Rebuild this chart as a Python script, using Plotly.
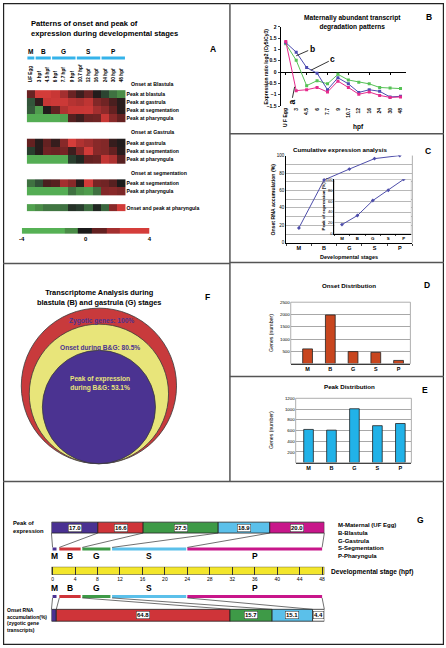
import plotly.graph_objects as go

W, H = 446, 648
FONT = "Liberation Sans, Arial, sans-serif"


def px(x):
    return x / W


def py(y):
    return 1 - y / H


def xdom(a, b):
    return [a / W, b / W]


def ydom(top, bottom):
    return [1 - bottom / H, 1 - top / H]


# ======================= DATA =======================
# Panel A heatmap (log2 ratios)
hm_columns = ["UF Egg", "3 hpf", "4.5 hpf", "6 hpf", "7.7 hpf", "9 hpf",
              "10.7 hpf", "12 hpf", "16 hpf", "24 hpf", "30 hpf", "48 hpf"]
blastula_rows = ["Peak at blastula", "Peak at gastrula", "Peak at segmentation", "Peak at pharyngula"]
blastula_z = [
    [1.2, 3.5, 3.5, 3.0, 2.2, 1.2, 0.5, 1.2, 0.1, -0.7, -1.5, -2.0],
    [-1.0, 0.3, 3.0, 3.2, 3.2, 2.6, 2.4, 2.8, 1.6, 1.3, 0.7, 0.2],
    [-1.1, -2.8, 0.1, 1.1, 2.5, 3.0, 3.0, 3.1, 2.2, 1.8, 1.1, 0.2],
    [-3.6, -3.6, -3.6, -3.6, -3.0, 0.9, 0.5, 1.2, 1.3, 3.0, 1.7, 1.1],
]
gastrula_rows = ["Peak at gastrula", "Peak at segmentation", "Peak at pharyngula"]
gastrula_z = [
    [1.1, 0.2, 1.1, 0.4, 1.7, 3.6, 2.5, 2.1, 1.7, 1.6, 0.4, 0.1],
    [-0.6, 0.2, 1.3, 1.2, 1.4, 0.5, 1.6, 3.4, 1.7, 1.6, 1.1, 0.2],
    [-3.6, -3.6, -3.6, -3.6, -3.6, -0.6, -0.2, 1.1, 1.2, 2.9, 2.4, 0.9],
]
segmentation_rows = ["Peak at segmentation", "Peak at pharyngula"]
segmentation_z = [
    [-1.5, -0.9, 0.7, 0.9, 2.2, 1.7, 0.2, 3.4, 1.4, 1.3, 0.9, 0.0],
    [-3.6, -3.6, -3.6, -3.6, -3.6, -1.5, -2.2, -2.8, -1.5, 1.6, 1.7, 1.5],
]
pharyngula_rows = ["Onset and peak at pharyngula"]
pharyngula_z = [
    [-3.0, -2.0, -1.6, -1.6, -1.5, -0.4, -0.6, -1.4, -0.2, -1.3, 1.7, 3.4],
]
group_headers = ["Onset at Blastula", "Onset at Gastrula", "Onset at segmentation", None]
stage_letters = ["M", "B", "G", "S", "P"]
stage_first_col = [0, 1, 3, 6, 9]
stage_last_col = [0, 2, 5, 8, 11]
legend_edges = [-4, -1.33, -0.46, 0.41, 1.34, 2.15, 4]
legend_values = [-3.8, -2.0, 0.0, 1.1, 2.2, 3.6]

# Panel B
degr_hpf = ["U F Egg", "3", "4.5", "6", "7.7", "9", "10.7", "12", "16", "24", "30", "48"]
degr_a = [1.35, -0.82, -0.78, -0.68, -0.88, -0.40, -0.68, -0.98, -0.88, -1.03, -1.12, -1.10]
degr_b = [1.30, 0.88, 0.20, -0.05, -0.78, -0.25, -0.52, -0.90, -0.78, -0.85, -1.10, -1.07]
degr_c = [1.25, 0.52, -0.60, -0.38, -0.52, -0.10, -0.35, -0.45, -0.52, -0.68, -0.70, -0.73]

# Panels C, D, E
stages = ["M", "B", "G", "S", "P"]
cum_onset = [17, 72, 84.5, 96.5, 100]
cum_peak = [17, 33.6, 61.1, 80, 100]
onset_counts = [600, 1980, 490, 460, 130]
peak_counts = [620, 607, 1005, 690, 730]

# Panel F
venn_labels = ["Zygotic genes: 100%", "Onset during B&G: 80.5%", "Peak of expression<br>during B&G: 53.1%"]
venn_pct = [100, 80.5, 53.1]

# Panel G
peak_pct = [17.0, 16.6, 27.5, 18.9, 20.0]
onset_pct = [1.8, 64.8, 15.7, 15.1, 4.4]   # M sliver unlabeled (estimated)
stage_start_hpf = [0, 1.2, 5.3, 10.6, 24]
stage_end_hpf = [0.7, 5.0, 10.3, 23.8, 48]
hpf_ticks = [0, 4, 8, 12, 16, 20, 24, 28, 32, 36, 40, 44, 48]
legend_names = ["M-Maternal (UF Egg)", "B-Blastula", "G-Gastrula", "S-Segmentation", "P-Pharyngula"]

# ======================= STYLE =======================
C_PURPLE = "#4a3192"
C_RED = "#cf3439"
C_GREEN = "#3e9a47"
C_LBLUE = "#5bc0ea"
C_MAGENTA = "#c8168a"
stage_colors = [C_PURPLE, C_RED, C_GREEN, C_LBLUE, C_MAGENTA]
onset_colors = [C_PURPLE, C_RED, C_GREEN, C_LBLUE, "#ffffff"]

hm_scale_pts = [(-4, "#57b557"), (-2, "#4a8c47"), (-1, "#33553a"), (0, "#1b1b1b"),
                (1, "#5e2020"), (2, "#9a2d2d"), (3, "#c83735"), (4, "#de413d")]
colorscale = [[(v + 4) / 8, c] for v, c in hm_scale_pts]

fig = go.Figure()
annotations = []
shapes = []


def text(t, x, y, size, bold=False, color="black", xanchor="center", yanchor="middle",
         angle=0, xref="paper", yref="paper", align="center", **kw):
    if xref == "paper":
        x = px(x)
    if yref == "paper":
        y = py(y)
    if bold:
        t = "<b>" + t.replace("<br>", "</b><br><b>") + "</b>"
    annotations.append(dict(text=t, x=x, y=y, xref=xref, yref=yref, xanchor=xanchor,
                            yanchor=yanchor, showarrow=False, textangle=angle, align=align,
                            font=dict(family=FONT, size=size, color=color), **kw))


def line(x0, y0, x1, y1, color="#333", width=1.0):
    shapes.append(dict(type="line", xref="paper", yref="paper", x0=px(x0), y0=py(y0),
                       x1=px(x1), y1=py(y1), line=dict(color=color, width=width)))


# ======================= PANEL A =======================
groups = [(blastula_rows, blastula_z), (gastrula_rows, gastrula_z),
          (segmentation_rows, segmentation_z), (pharyngula_rows, pharyngula_z)]
group_tops = [88, 137, 178, 203]
group_row_h = [8, 8.3, 8, 7.5]
row_tickvals, row_ticktext = [], []
for gi, (rows, z) in enumerate(groups):
    top = group_tops[gi]
    rh = group_row_h[gi]
    edges = [top + rh * i for i in range(len(rows) + 1)]
    fig.add_trace(go.Heatmap(z=z, x=list(range(len(hm_columns))), y=edges,
                             colorscale=colorscale, zmin=-4, zmax=4, showscale=False,
                             xaxis="x", yaxis="y", hoverinfo="skip"))
    row_tickvals += [(edges[i] + edges[i + 1]) / 2 for i in range(len(rows))]
    row_ticktext += ["<b>%s</b>" % r for r in rows]
    if group_headers[gi]:
        text(group_headers[gi], 127, top - 6.5, 5.2, bold=True, xanchor="left")

# legend swatch bar
fig.add_trace(go.Heatmap(z=[legend_values], x=legend_edges, y=[0, 1], colorscale=colorscale,
                         zmin=-4, zmax=4, showscale=False, xaxis="x11", yaxis="y11",
                         hoverinfo="skip"))

for i, s in enumerate(stage_letters):
    a, b = stage_first_col[i], stage_last_col[i]
    text(s, (a + b) / 2, 49, 6.5, bold=True, xref="x")
    shapes.append(dict(type="rect", xref="x", yref="paper", x0=a - 0.42, x1=b + 0.42,
                       y0=py(57), y1=py(54), fillcolor="#35b3ea", line=dict(width=0)))

text("Patterns of onset and peak of<br>expression during developmental stages", 26, 25.5, 7.6,
     bold=True, xanchor="left", align="left")
text("A", 212, 46, 8.5, bold=True)

# ======================= PANEL B =======================
for name, vals, col in [("c", degr_c, "#56c256"), ("b", degr_b, "#4b4bb0"), ("a", degr_a, "#e62a8c")]:
    fig.add_trace(go.Scatter(x=degr_hpf, y=vals, mode="lines+markers", name=name,
                             line=dict(color=col, width=1),
                             marker=dict(symbol="square", size=3, color=col),
                             xaxis="x2", yaxis="y2", hoverinfo="skip"))
# invisible carrier so the zero-line tick axis is drawn
fig.add_trace(go.Scatter(x=degr_hpf, y=[None] * len(degr_hpf), xaxis="x12", yaxis="y2",
                         hoverinfo="skip", mode="markers"))
text("Maternally abundant transcript<br>degradation patterns", 353.5, 20, 6.6, bold=True)
text("B", 431, 14, 8.5, bold=True)
text("hpf", 360, 125, 6.5, bold=True)
text("Expression ratio log2 (Cy5/Cy3)", 266, 64, 5, bold=True, angle=-90)
for lab, xi, yv, ax, ay, ang in [("b", 1, 0.72, 16, -7, 0), ("c", 2.4, 0.08, 22, -11, 0),
                                  ("a", 0.85, -0.65, -3, 15, -90)]:
    annotations.append(dict(text="<b>%s</b>" % lab, x=xi, y=yv, xref="x2", yref="y2",
                            ax=ax, ay=ay, showarrow=True, arrowhead=0, arrowwidth=0.8,
                            arrowcolor="black", standoff=0, textangle=ang,
                            font=dict(family=FONT, size=8.5, color="black")))

# ======================= PANEL C =======================
fig.add_trace(go.Scatter(x=stages, y=cum_onset, mode="lines+markers",
                         line=dict(color="#4e4eaa", width=1),
                         marker=dict(symbol="diamond", size=3, color="#4e4eaa"),
                         xaxis="x3", yaxis="y3", hoverinfo="skip"))
fig.add_trace(go.Scatter(x=stages, y=cum_peak, mode="lines+markers",
                         line=dict(color="#4e4eaa", width=1),
                         marker=dict(symbol="diamond", size=3, color="#4e4eaa"),
                         xaxis="x4", yaxis="y4", hoverinfo="skip"))
shapes.append(dict(type="rect", xref="x4", yref="y4", x0=-0.5, x1=4.5, y0=0, y1=100,
                   fillcolor="white", line=dict(color="#999", width=0.8), layer="below"))
shapes.append(dict(type="line", xref="x3 domain", yref="y3 domain", x0=1, x1=1, y0=0, y1=1,
                   line=dict(color="#999", width=0.8)))
text("Cumulative expression analysis", 341, 148, 6.2, bold=True)
text("C", 430, 149, 8.5, bold=True)
text("Onset RNA accumulation (%)", 273.5, 198, 5.2, bold=True, angle=-90)
text("Developmental stages", 350, 256, 5.5, bold=True)
text("Peak of expression (%)", 324, 205, 4.4, bold=True, angle=-90)

# ======================= PANEL D / E =======================
fig.add_trace(go.Bar(x=stages, y=onset_counts, width=0.43, marker=dict(color="#c8461f", line=dict(color="#222", width=0.8)),
                     xaxis="x5", yaxis="y5", hoverinfo="skip"))
fig.add_trace(go.Bar(x=stages, y=peak_counts, width=0.42, marker=dict(color="#21b2e8", line=dict(color="#222", width=0.8)),
                     xaxis="x6", yaxis="y6", hoverinfo="skip"))
for ax in ["5", "6"]:
    shapes.append(dict(type="rect", xref="x%s domain" % ax, yref="y%s domain" % ax,
                       x0=0, x1=1, y0=0, y1=1, line=dict(color="#999", width=0.8)))
text("Onset Distribution", 350, 285, 6.2, bold=True)
text("D", 429, 285, 8.5, bold=True)
text("Genes (number)", 271, 333, 5.2, angle=-90)
text("Peak Distribution", 350, 387, 6.2, bold=True)
text("E", 427, 391, 8.5, bold=True)
text("Genes (number)", 271, 431, 5.2, angle=-90)

# ======================= PANEL F =======================
fig.add_trace(go.Scatter(x=[None], y=[None], xaxis="x7", yaxis="y7", hoverinfo="skip"))
R_OUT, CX, BOTTOM = 78.5, 97, 465
venn_colors = ["#c83a3c", "#e8e57a", "#4b3391"]
for p, col in zip(venn_pct, venn_colors):
    r = R_OUT * (p / 100) ** 0.5
    shapes.append(dict(type="circle", xref="x7", yref="y7", x0=CX - r, x1=CX + r,
                       y0=BOTTOM - 2 * r, y1=BOTTOM, fillcolor=col,
                       line=dict(color="#3a3a3a", width=0.8)))
text("Transcriptome Analysis during<br>blastula (B) and gastrula (G) stages", 97.5, 297, 7.4, bold=True)
text("F", 207, 297, 8.5, bold=True)
text(venn_labels[0], 99.5, 321, 6.6, bold=True, color="#4b3391")
text(venn_labels[1], 98, 348, 6.6, bold=True, color="#4b3391")
text(venn_labels[2], 98, 384, 6.6, bold=True, color="#e8e57a")

# ======================= PANEL G =======================
def cum_starts(vals):
    out, s = [], 0
    for v in vals:
        out.append(s)
        s += v
    return out


peak_base = cum_starts(peak_pct)
onset_tot = sum(onset_pct)
onset_norm = [v / onset_tot * 100 for v in onset_pct]
onset_base = cum_starts(onset_norm)
fig.add_trace(go.Bar(x=peak_pct, base=peak_base, y=[529.5] * 5, width=11, orientation="h",
                     marker=dict(color=stage_colors, line=dict(color="#222", width=0.8)),
                     xaxis="x8", yaxis="y8", hoverinfo="skip"))
fig.add_trace(go.Bar(x=onset_norm, base=onset_base, y=[618] * 5, width=12, orientation="h",
                     marker=dict(color=onset_colors, line=dict(color="#222", width=0.8)),
                     xaxis="x8", yaxis="y8", hoverinfo="skip"))
durations = [e - s for s, e in zip(stage_start_hpf, stage_end_hpf)]
for yb in (551, 599):
    fig.add_trace(go.Bar(x=durations, base=stage_start_hpf, y=[yb] * 5, width=3, orientation="h",
                         marker=dict(color=stage_colors, line=dict(width=0)),
                         xaxis="x9", yaxis="y8", hoverinfo="skip"))
fig.add_trace(go.Scatter(x=[None], y=[None], xaxis="x10", yaxis="y10", hoverinfo="skip"))
shapes.append(dict(type="rect", xref="x10", yref="y10", x0=-0.2, x1=48.4, y0=0, y1=1,
                   fillcolor="#f3e62b", line=dict(color="#333", width=0.8), layer="below"))

for i, v in enumerate(peak_pct):
    text("%.1f" % v, peak_base[i] + v / 2, 529.5, 6, bold=True, xref="x8", yref="y8",
         bgcolor="white", bordercolor="#333", borderwidth=0.5, borderpad=0.5)
for i, v in enumerate(onset_pct):
    if i == 0:
        continue
    text("%.1f" % v, onset_base[i] + onset_norm[i] / 2, 618, 6, bold=True, xref="x8", yref="y8",
         bgcolor="white", bordercolor="#333", borderwidth=0.5, borderpad=0.5)

G_X0, G_W = 49, 276
HPF_MIN, HPF_MAX = -0.2, 48.4


def pct_px(p):
    return G_X0 + p / 100 * G_W


def hpf_px(h):
    return G_X0 + (h - HPF_MIN) / (HPF_MAX - HPF_MIN) * G_W


peak_bounds = peak_base + [100]
onset_bounds = onset_base + [100]
hpf_bounds = stage_start_hpf + [stage_end_hpf[-1]]
for pb, hb in zip(peak_bounds, hpf_bounds):
    line(pct_px(pb), 535, hpf_px(hb), 549.5, width=0.7)
for ob, hb in zip(onset_bounds, hpf_bounds):
    line(hpf_px(hb), 600.5, pct_px(ob), 612, width=0.7)

for i, s in enumerate(stage_letters):
    mid = (stage_start_hpf[i] + stage_end_hpf[i]) / 2
    text(s, mid, 558.5, 8.5, bold=True, xref="x9", yref="y8")
    text(s, mid, 590.5, 8.5, bold=True, xref="x9", yref="y8")

text("Peak of<br>expression", 8, 529, 5.8, bold=True, xanchor="left", align="left")
text("Onset RNA<br>accumulation(%)<br>(zygotic gene<br>transcripts)", 2, 622.5, 5,
     bold=True, xanchor="left", align="left")
for i, nm in enumerate(legend_names):
    text(nm, 337, 527 + 7.8 * i, 6, bold=True, xanchor="left")
text("Developmental stage (hpf)", 330, 574, 6.6, bold=True, xanchor="left")
text("G", 422, 522, 8.5, bold=True)

# ======================= PANEL FRAMES =======================
shapes.append(dict(type="rect", xref="paper", yref="paper", x0=px(0.6), x1=px(445.4),
                   y0=py(647.4), y1=py(0.6), line=dict(color="#222", width=1.2)))
DIV = "#555"
line(229.5, 0, 229.5, 483, DIV, 1.5)
line(0, 263, 229.5, 263, DIV, 1.5)
line(229.5, 132, 446, 132, DIV, 1.5)
line(229.5, 262, 446, 262, DIV, 1.5)
line(229.5, 377, 446, 377, DIV, 1.5)
line(0, 483, 446, 483, DIV, 1.5)

# ======================= AXES =======================
small = lambda s: dict(family=FONT, size=s, color="black")
hidden = dict(visible=False, showgrid=False, zeroline=False)
B_YMIN, B_YMAX, B_TOP, B_BOT = -1.5, 2, 24, 104
zero_px = B_BOT - (0 - B_YMIN) / (B_YMAX - B_YMIN) * (B_BOT - B_TOP)

layout_axes = dict(
    # panel A heatmap
    xaxis=dict(domain=xdom(24, 124), anchor="y", range=[-0.5, 11.5], side="top",
               tickvals=list(range(len(hm_columns))),
               ticktext=["<b>%s</b>" % c for c in hm_columns], tickangle=-90,
               tickfont=small(4.7), ticks="", showgrid=False, zeroline=False, showline=False),
    yaxis=dict(domain=ydom(81, 215), anchor="x", range=[215, 81], side="right",
               tickvals=row_tickvals, ticktext=row_ticktext, tickfont=small(5.1), ticks="",
               showgrid=False, zeroline=False, showline=False),
    xaxis11=dict(domain=xdom(19, 148), anchor="y11", range=[-4, 4], tickvals=[-4, 0, 4],
                 ticktext=["<b>-4</b>", "<b>0</b>", "<b>4</b>"], tickfont=small(6), ticks="",
                 showgrid=False, zeroline=False, showline=False),
    yaxis11=dict(domain=ydom(227, 233), anchor="x11", range=[0, 1], **hidden),
    # panel B
    xaxis2=dict(domain=xdom(280.7, 407.3), anchor="y2", type="category", range=[-0.5, 11.5],
                tickangle=-90, tickfont=small(5), ticks="", showline=False, showgrid=False,
                zeroline=False, tickprefix="<b>", ticksuffix="</b>"),
    xaxis12=dict(domain=xdom(280.7, 407.3), overlaying="x2", anchor="free",
                 position=py(zero_px), type="category", range=[-0.5, 11.5],
                 ticks="outside", ticklen=2, tickcolor="black", showticklabels=False,
                 showline=False, showgrid=False, zeroline=False),
    yaxis2=dict(domain=ydom(B_TOP, B_BOT), anchor="x2", range=[B_YMIN, B_YMAX], dtick=0.5,
                showline=True, linecolor="black", linewidth=1, ticks="outside", ticklen=2,
                tickfont=small(5), showgrid=False, zeroline=True, zerolinecolor="black",
                zerolinewidth=1, tickprefix="<b>", ticksuffix="</b>"),
    # panel C
    xaxis3=dict(domain=xdom(286.5, 414), anchor="y3", type="category", range=[-0.5, 4.5],
                showline=True, linecolor="black", linewidth=1, ticks="outside", ticklen=2,
                tickson="boundaries", tickfont=small(5.5), showgrid=False,
                tickprefix="<b>", ticksuffix="</b>"),
    yaxis3=dict(domain=ydom(154, 242), anchor="x3", range=[0, 100], dtick=20,
                showline=True, linecolor="black", linewidth=1, ticks="", tickfont=small(4.5),
                showgrid=True, gridcolor="#b8b8b8", gridwidth=0.8, zeroline=False,
                minor=dict(dtick=10, showgrid=True, gridcolor="#b8b8b8", gridwidth=0.8)),
    xaxis4=dict(domain=xdom(335, 413), anchor="y4", type="category", range=[-0.5, 4.5],
                showline=True, linecolor="black", linewidth=0.8, ticks="outside", ticklen=1.5,
                tickson="boundaries", tickfont=small(4.4), showgrid=False,
                tickprefix="<b>", ticksuffix="</b>"),
    yaxis4=dict(domain=ydom(178, 233), anchor="x4", range=[0, 100], dtick=20,
                showline=True, linecolor="black", linewidth=0.8, ticks="", tickfont=small(4),
                showgrid=True, gridcolor="#b8b8b8", gridwidth=0.8, zeroline=False),
    # panel D
    xaxis5=dict(domain=xdom(291, 412), anchor="y5", type="category", range=[-0.74, 4.52],
                showline=True, linecolor="#333", linewidth=1, ticks="", tickfont=small(5.5),
                showgrid=False, tickprefix="<b>", ticksuffix="</b>"),
    yaxis5=dict(domain=ydom(302, 364), anchor="x5", range=[0, 2500],
                tickvals=[500, 1000, 1500, 2000, 2500], showline=False, ticks="",
                tickfont=small(4.4), showgrid=True, gridcolor="#a8a8a8", gridwidth=0.7,
                zeroline=False),
    # panel E
    xaxis6=dict(domain=xdom(296, 413), anchor="y6", type="category", range=[-0.56, 4.48],
                showline=True, linecolor="#333", linewidth=1, ticks="", tickfont=small(5.5),
                showgrid=False, tickprefix="<b>", ticksuffix="</b>"),
    yaxis6=dict(domain=ydom(399, 464), anchor="x6", range=[0, 1200],
                tickvals=[200, 400, 600, 800, 1000, 1200], showline=False, ticks="",
                tickfont=small(4.4), showgrid=True, gridcolor="#a8a8a8", gridwidth=0.7,
                zeroline=False),
    # panel F
    xaxis7=dict(domain=xdom(0, 228), anchor="y7", range=[0, 228], **hidden),
    yaxis7=dict(domain=ydom(263, 483), anchor="x7", range=[483, 263], **hidden),
    # panel G
    xaxis8=dict(domain=xdom(49, 325), anchor="y8", range=[0, 100], **hidden),
    yaxis8=dict(domain=ydom(483, 648), anchor="x8", range=[648, 483], **hidden),
    xaxis9=dict(domain=xdom(49, 325), anchor="y8", range=[HPF_MIN, HPF_MAX], **hidden),
    xaxis10=dict(domain=xdom(49, 325), anchor="y10", range=[HPF_MIN, HPF_MAX],
                 tickvals=hpf_ticks, tickfont=small(5), ticks="", showline=False,
                 showgrid=True, gridcolor="#333", gridwidth=0.7, zeroline=False,
                 tickprefix="<b>", ticksuffix="</b>"),
    yaxis10=dict(domain=ydom(569, 577), anchor="x10", range=[0, 1], **hidden),
)

fig.update_layout(
    width=W, height=H, margin=dict(l=0, r=0, t=0, b=0, pad=0),
    paper_bgcolor="white", plot_bgcolor="rgba(0,0,0,0)", showlegend=False,
    barmode="overlay", font=dict(family=FONT, color="black"),
    annotations=annotations, shapes=shapes, **layout_axes,
)

fig.write_html("out.html", config={"displayModeBar": False},
               post_script="document.body.style.margin='0';document.body.style.overflow='hidden';")
